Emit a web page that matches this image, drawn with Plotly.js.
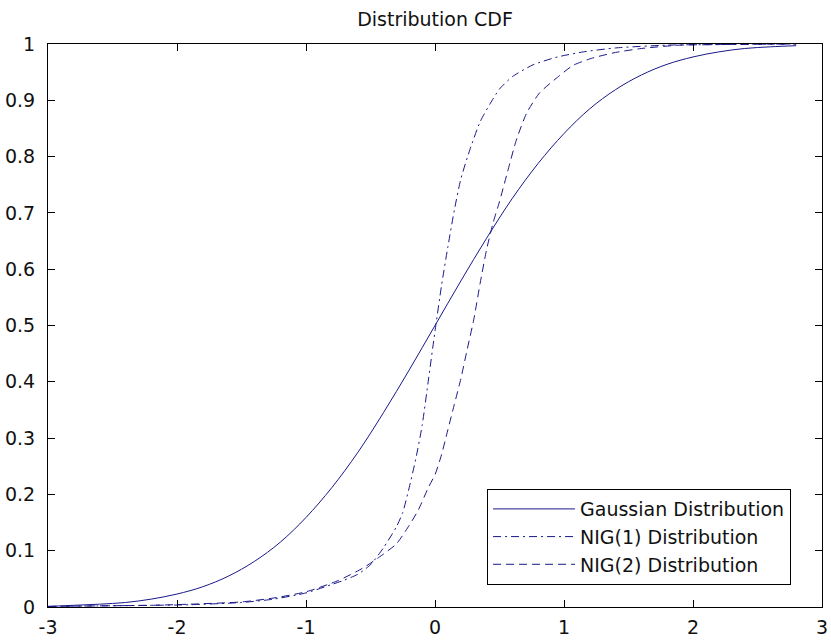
<!DOCTYPE html>
<html>
<head>
<meta charset="utf-8">
<script src="https://cdn.plot.ly/plotly-3.0.1.min.js"></script>
<style>html,body{margin:0;padding:0;background:#fff;}#chart{width:831px;height:640px;}</style>
</head>
<body>
<div id="chart"></div>
<script>
// Gaussian Distribution
const gaussX = [-3.0,-2.8,-2.6,-2.4,-2.2,-2.0,-1.8,-1.6,-1.4,-1.2,-1.0,-0.8,-0.6,-0.4,-0.2,0.0,0.2,0.4,0.6,0.8,1.0,1.2,1.4,1.6,1.8,2.0,2.2,2.4,2.6,2.8];
const gaussY = [0.001,0.003,0.005,0.008,0.014,0.023,0.036,0.055,0.081,0.115,0.159,0.212,0.274,0.345,0.421,0.500,0.579,0.655,0.726,0.788,0.841,0.885,0.919,0.945,0.964,0.977,0.986,0.992,0.995,0.997];

// NIG(1) Distribution (dash-dot)
const nig1X = [-3.0,-2.6,-2.2,-1.9,-1.5,-1.25,-1.0,-0.8,-0.7,-0.6,-0.5,-0.4,-0.3,-0.25,-0.2,-0.15,-0.1,-0.05,0.0,0.05,0.1,0.15,0.2,0.27,0.35,0.43,0.5,0.6,0.76,0.95,1.15,1.4,1.8,2.2,2.8];
const nig1Y = [0.001,0.002,0.003,0.004,0.008,0.014,0.025,0.040,0.048,0.058,0.075,0.105,0.142,0.168,0.212,0.262,0.322,0.405,0.490,0.570,0.640,0.705,0.760,0.812,0.862,0.895,0.920,0.942,0.963,0.977,0.986,0.993,0.998,0.999,1.000];

// NIG(2) Distribution (dashed)
const nig2X = [-3.0,-2.6,-2.2,-1.9,-1.5,-1.25,-1.0,-0.75,-0.56,-0.43,-0.3,-0.2,-0.13,-0.05,0.0,0.05,0.1,0.15,0.2,0.25,0.3,0.35,0.4,0.45,0.5,0.56,0.63,0.71,0.81,0.95,1.07,1.22,1.4,1.6,1.9,2.2,2.8];
const nig2Y = [0.001,0.002,0.003,0.005,0.009,0.016,0.027,0.047,0.069,0.089,0.112,0.145,0.172,0.213,0.235,0.270,0.315,0.360,0.405,0.458,0.510,0.575,0.635,0.682,0.720,0.771,0.829,0.877,0.913,0.941,0.962,0.975,0.985,0.992,0.998,0.999,1.000];

const seriesNames = ['Gaussian Distribution','NIG(1) Distribution','NIG(2) Distribution'];
const xTicks = [-3,-2,-1,0,1,2,3];
const xTickText = ['-3','-2','-1','0','1','2','3'];
const yTicks = [0,0.1,0.2,0.3,0.4,0.5,0.6,0.7,0.8,0.9,1];
const yTickText = ['0','0.1','0.2','0.3','0.4','0.5','0.6','0.7','0.8','0.9','1'];

const lineColor = '#18188a';
const FONT = 'DejaVu Sans, Verdana, sans-serif';
const FS = 19;

const traces = [
  {x: gaussX, y: gaussY, name: seriesNames[0], legendgroup: 'g1', mode: 'lines',
   line: {color: lineColor, width: 1, shape: 'spline'}},
  {x: nig1X, y: nig1Y, name: seriesNames[1], legendgroup: 'g2', mode: 'lines',
   line: {color: lineColor, width: 1, dash: '8px,4px,2px,4px', shape: 'spline', smoothing: 0.6}},
  {x: nig2X, y: nig2Y, name: seriesNames[2], legendgroup: 'g3', mode: 'lines',
   line: {color: lineColor, width: 1, dash: '8px,5px', shape: 'spline', smoothing: 0.6}}
];

const axisCommon = {
  showline: true, linecolor: '#000', linewidth: 1, mirror: 'allticks',
  ticks: 'inside', ticklen: 7, tickwidth: 1, tickcolor: '#000',
  showgrid: false, zeroline: false,
  tickfont: {family: FONT, size: FS, color: '#111'}
};

const layout = {
  width: 831, height: 640,
  margin: {l: 48, r: 9, t: 44, b: 33},
  paper_bgcolor: '#fff', plot_bgcolor: '#fff',
  title: {text: 'Distribution CDF', font: {family: FONT, size: FS, color: '#111'},
          x: 0.5, xref: 'paper', y: 0.970, yref: 'container', yanchor: 'middle'},
  xaxis: Object.assign({}, axisCommon, {range: [-3, 3], tickvals: xTicks, ticktext: xTickText, ticklabelstandoff: 3}),
  yaxis: Object.assign({}, axisCommon, {range: [0, 1], tickvals: yTicks, ticktext: yTickText, ticklabelstandoff: 8}),
  showlegend: true,
  legend: {x: 0.96, xanchor: 'right', y: 0.039, yanchor: 'bottom',
           bgcolor: '#fff', bordercolor: '#000', borderwidth: 1,
           font: {family: FONT, size: FS, color: '#111'},
           itemwidth: 82, tracegroupgap: 2, traceorder: 'normal'}
};

Plotly.newPlot('chart', traces, layout, {staticPlot: true, displayModeBar: false});
</script>
</body>
</html>
